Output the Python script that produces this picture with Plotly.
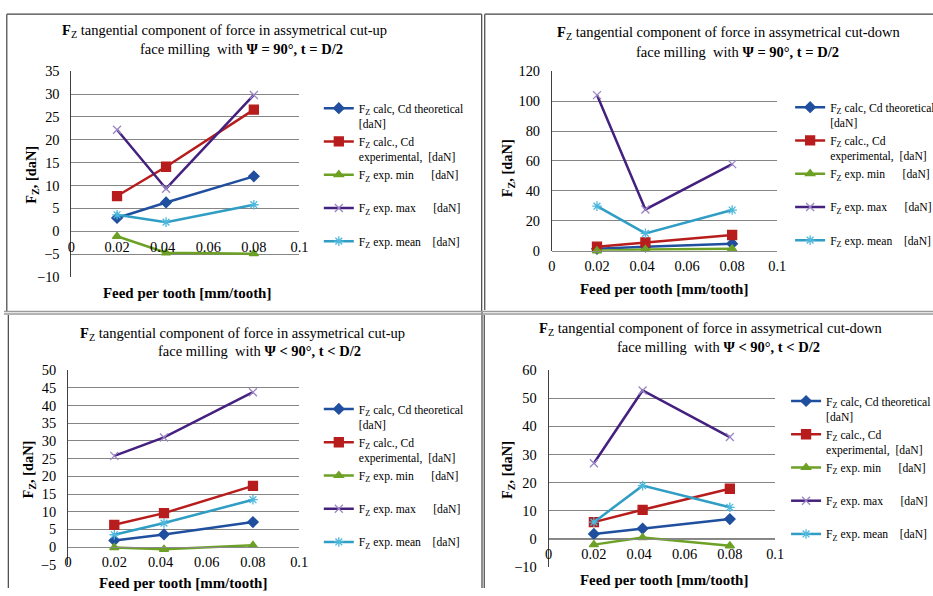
import plotly.graph_objects as go

# Figure size in pixels
W, H = 947, 596

# Layout positions below are given on a 933x596 view grid that maps onto a
# 963x612 page area; the plot div sits 8px inside the page (body margin).
VIEW_W, VIEW_H = 933, 596
PAGE_W, PAGE_H = 963, 612
PAD = 8
SX = PAGE_W / VIEW_W
SY = PAGE_H / VIEW_H
FS = (SX + SY) / 2


def px_x(v):
    """View-grid column -> paper fraction."""
    return min(max((v * SX - PAD) / W, 0.0), 1.0)


def px_y(v):
    """View-grid row -> paper fraction."""
    return min(max(1 - (v * SY - PAD) / H, 0.0), 1.0)


def fsz(s):
    return round(s * FS, 2)


# Feed per tooth [mm/tooth]
feed = [0.02, 0.0415, 0.08]
x_tick_vals = [0, 0.02, 0.04, 0.06, 0.08, 0.1]
x_tick_text = ["0", "0.02", "0.04", "0.06", "0.08", "0.1"]

# Cut-up milling, psi = 90 deg, t = D/2
up90_calc_theo = [2.9, 6.3, 12.0]
up90_calc_exp = [7.7, 14.1, 26.6]
up90_exp_min = [-1.1, -4.7, -4.9]
up90_exp_max = [22.2, 9.3, 29.8]
up90_exp_mean = [3.6, 2.0, 5.8]

# Cut-down milling, psi = 90 deg, t = D/2
down90_calc_theo = [1.3, 2.7, 4.7]
down90_calc_exp = [2.7, 5.6, 10.5]
down90_exp_min = [0.0, 0.9, 1.3]
down90_exp_max = [104.0, 27.6, 57.9]
down90_exp_mean = [29.8, 11.6, 27.2]

# Cut-up milling, psi < 90 deg, t < D/2
up_lt_calc_theo = [1.9, 3.6, 7.1]
up_lt_calc_exp = [6.3, 9.6, 17.3]
up_lt_exp_min = [-0.1, -0.6, 0.5]
up_lt_exp_max = [25.8, 31.0, 43.8]
up_lt_exp_mean = [3.5, 6.8, 13.4]

# Cut-down milling, psi < 90 deg, t < D/2
down_lt_calc_theo = [1.7, 3.6, 7.0]
down_lt_calc_exp = [5.9, 10.3, 17.8]
down_lt_exp_min = [-2.1, 0.4, -2.5]
down_lt_exp_max = [26.9, 52.8, 36.2]
down_lt_exp_mean = [5.9, 18.9, 11.2]

NB = "\u00a0"
series_names = [
    "F<sub>Z</sub> calc, Cd theoretical<br>[daN]",
    "F<sub>Z</sub> calc., Cd<br>experimental," + NB + " [daN]",
    "F<sub>Z</sub> exp. min" + NB * 6 + "[daN]<br>" + NB,
    "F<sub>Z</sub> exp. max" + NB * 6 + "[daN]<br>" + NB,
    "F<sub>Z</sub> exp. mean" + NB * 4 + "[daN]<br>" + NB,
]

# line colour, marker symbol, marker size, marker colour
styles = [
    ("#1f4f9e", "diamond", 8, "#1f4f9e"),
    ("#b81d1d", "square", 9, "#b81d1d"),
    ("#6da126", "triangle-up", 8, "#6da126"),
    ("#44207f", "x-thin-open", 8, "#9a86c4"),
    ("#2f9dc4", "asterisk-open", 8, "#4fb8dc"),
]

SERIF = "Liberation Serif, Times New Roman, serif"

panels = [
    dict(
        data=[up90_calc_theo, up90_calc_exp, up90_exp_min, up90_exp_max, up90_exp_mean],
        yrange=[-10, 35], dtick=5,
        box=(74, 298, 71, 277),
        title1=("<b>F</b><sub>Z</sub> tangential component of force in assymetrical cut-up", 224, 31),
        title2=("face milling  with <b>Ψ = 90°, t = D/2</b>", 241, 49),
        ytitle=(35, 175), xtitle=(188, 293),
        legend=(317, 94),
    ),
    dict(
        data=[down90_calc_theo, down90_calc_exp, down90_exp_min, down90_exp_max, down90_exp_mean],
        yrange=[0, 120], dtick=20,
        box=(546, 767.3, 71, 250.7),
        title1=("<b>F</b><sub>Z</sub> tangential component of force in assymetrical cut-down", 720, 33),
        title2=("face milling  with <b>Ψ = 90°, t = D/2</b>", 728, 52),
        ytitle=(503, 168), xtitle=(656, 289),
        legend=(780, 93),
    ),
    dict(
        data=[up_lt_calc_theo, up_lt_calc_exp, up_lt_exp_min, up_lt_exp_max, up_lt_exp_mean],
        yrange=[-5, 50], dtick=5,
        box=(70.7, 297.7, 370.3, 565),
        title1=("<b>F</b><sub>Z</sub> tangential component of force in assymetrical cut-up", 242, 334),
        title2=("face milling  with <b>Ψ < 90°, t < D/2</b>", 259, 351),
        ytitle=(32, 470), xtitle=(184, 583),
        legend=(317, 395),
    ),
    dict(
        data=[down_lt_calc_theo, down_lt_calc_exp, down_lt_exp_min, down_lt_exp_max, down_lt_exp_mean],
        yrange=[-10, 60], dtick=10,
        box=(542.7, 765.3, 370.3, 567),
        title1=("<b>F</b><sub>Z</sub> tangential component of force in assymetrical cut-down", 702, 329),
        title2=("face milling  with <b>Ψ < 90°, t < D/2</b>", 710, 347),
        ytitle=(503, 470), xtitle=(656, 580),
        legend=(776, 387),
    ),
]

fig = go.Figure()
layout = dict(
    width=W, height=H,
    margin=dict(l=0, r=0, t=0, b=0),
    paper_bgcolor="white", plot_bgcolor="white",
    showlegend=True,
    font=dict(family=SERIF, size=fsz(13), color="#000000"),
)
annotations = []
shapes = []

for k, p in enumerate(panels, start=1):
    sfx = "" if k == 1 else str(k)
    left, right, top, bottom = p["box"]
    y0, y1 = p["yrange"]
    dom_y = [px_y(bottom), px_y(top)]
    # paper position of the value-zero line, where the category axis crosses
    zero_pos = dom_y[0] + (0 - y0) / (y1 - y0) * (dom_y[1] - dom_y[0])

    layout["xaxis" + sfx] = dict(
        domain=[px_x(left), px_x(right)], range=[0, 0.1],
        anchor="free", position=zero_pos,
        tickvals=x_tick_vals, ticktext=x_tick_text,
        showgrid=False, zeroline=False, showline=True,
        linecolor="#8a8a8a", linewidth=1, ticks="",
        tickfont=dict(family=SERIF, size=fsz(14), color="#000000"),
        ticklabelstandoff=2,
    )
    layout["yaxis" + sfx] = dict(
        domain=dom_y, range=[y0, y1], dtick=p["dtick"],
        anchor="x" + sfx, showgrid=True, gridcolor="#858585", gridwidth=1,
        zeroline=False, showline=True, linecolor="#404040", linewidth=1,
        ticks="", tickfont=dict(family=SERIF, size=fsz(14), color="#000000"),
        ticklabelstandoff=8,
    )

    leg_name = "legend" + sfx
    lx, ly = p["legend"]
    layout[leg_name] = dict(
        x=px_x(lx), y=px_y(ly), xanchor="left", yanchor="top",
        bgcolor="rgba(0,0,0,0)", font=dict(family=SERIF, size=fsz(11.3), color="#000000"),
        valign="top", itemwidth=30, tracegroupgap=1.5, traceorder="normal",
    )

    for i, (vals, name, (lc, sym, msize, mc)) in enumerate(zip(p["data"], series_names, styles)):
        fig.add_trace(go.Scatter(
            x=feed, y=vals, name=name, mode="lines+markers",
            xaxis="x" + sfx, yaxis="y" + sfx, legend=leg_name,
            legendgroup=f"p{k}s{i}",
            line=dict(color=lc, width=2.5),
            marker=dict(symbol=sym, size=msize, color=mc,
                        line=dict(color=mc, width=1.3)),
            cliponaxis=False,
        ))

    for text, cx, cy in (p["title1"], p["title2"]):
        annotations.append(dict(
            text=text, x=px_x(cx), y=px_y(cy), xref="paper", yref="paper",
            xanchor="center", yanchor="middle", showarrow=False,
            font=dict(family=SERIF, size=fsz(14.1), color="#000000"),
        ))
    tx, ty = p["ytitle"]
    annotations.append(dict(
        text="<b>F<sub>Z</sub>, [daN]</b>", x=px_x(tx), y=px_y(ty),
        xref="paper", yref="paper", xanchor="center", yanchor="middle",
        textangle=-90, showarrow=False,
        font=dict(family=SERIF, size=fsz(14), color="#000000"),
    ))
    tx, ty = p["xtitle"]
    annotations.append(dict(
        text="<b>Feed per tooth [mm/tooth]</b>", x=px_x(tx), y=px_y(ty),
        xref="paper", yref="paper", xanchor="center", yanchor="middle",
        showarrow=False, font=dict(family=SERIF, size=fsz(14.5), color="#000000"),
    ))

# Panel frame edges as view-grid segments: (x0, y0, x1, y1)
frame_edges = [
    (10.5, 14, 477, 14), (10.5, 14, 10.5, 312), (477, 14, 477, 312),
    (480, 14, 933, 14), (480, 14, 480, 310),
    (12, 315, 12, 596), (477.3, 312, 477.3, 596),
    (479.5, 315, 479.5, 596),
]
for x0, ya, x1, yb in frame_edges:
    shapes.append(dict(
        type="line", xref="paper", yref="paper",
        x0=px_x(x0), x1=px_x(x1), y0=px_y(ya), y1=px_y(yb),
        line=dict(color="#444444", width=1.2),
    ))
for yy in (311.5, 314):
    shapes.append(dict(
        type="line", xref="paper", yref="paper",
        x0=0, x1=1, y0=px_y(yy), y1=px_y(yy),
        line=dict(color="#9a9a9a", width=1.5),
    ))

layout["annotations"] = annotations
layout["shapes"] = shapes
fig.update_layout(**layout)

fig.write_html("out.html")
